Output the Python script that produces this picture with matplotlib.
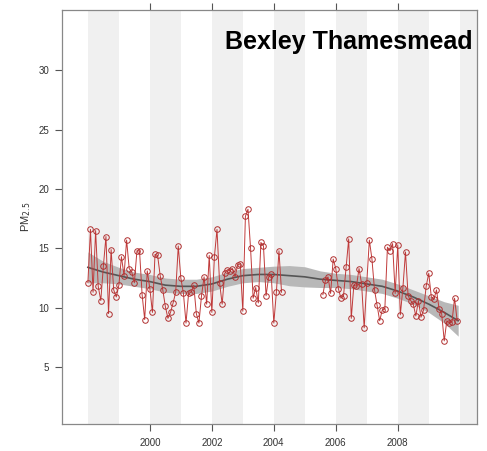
import numpy as np
import matplotlib.pyplot as plt

plt.rcParams['font.family'] = ['Liberation Sans', 'DejaVu Sans']

# monthly PM2.5, Jan 1998 - Apr 2004
seg1_start = 1998.0
seg1 = [12.1, 16.6, 11.3, 16.5, 11.8, 10.6, 13.5, 16.0, 9.5, 14.9, 11.5, 10.9,
        11.9, 14.3, 12.7, 15.7, 13.3, 13.0, 12.1, 14.8, 14.8, 11.1, 9.0, 13.1,
        11.6, 9.6, 14.5, 14.4, 12.7, 11.5, 10.1, 9.1, 9.6, 10.4, 11.3, 15.2,
        12.5, 11.2, 8.7, 11.2, 11.3, 11.9, 9.5, 8.7, 11.0, 12.6, 10.3, 14.4,
        9.6, 14.3, 16.6, 12.1, 10.3, 12.9, 13.2, 13.1, 13.3, 12.6, 13.6, 13.7,
        9.7, 17.7, 18.3, 15.0, 10.8, 11.7, 10.4, 15.5, 15.2, 11.0, 12.6, 12.8,
        8.7, 11.3, 14.8, 11.3]

# monthly PM2.5, Aug 2005 - Dec 2009
seg2_start = 2005 + 7 / 12
seg2 = [11.1, 12.3, 12.6, 11.2, 14.1, 13.3, 11.6, 10.8, 11.0, 13.4, 15.8, 9.1,
        11.9, 11.8, 13.3, 12.0, 8.3, 12.1, 15.7, 14.1, 11.5, 10.2, 8.9, 9.8,
        9.9, 15.1, 14.8, 15.4, 11.2, 15.3, 9.4, 11.7, 14.7, 11.0, 10.6, 10.3,
        9.3, 10.6, 9.2, 9.8, 11.8, 12.9, 10.9, 10.7, 11.5, 9.9, 9.5, 7.2,
        8.9, 8.7, 8.8, 10.8, 8.9]

# smooth trend with confidence interval
trend_x = [1998.0, 1998.5, 1999.0, 1999.5, 2000.0, 2000.5, 2001.0, 2001.5,
           2002.0, 2002.5, 2003.0, 2003.5, 2004.0, 2004.5, 2005.0, 2005.5,
           2006.0, 2006.5, 2007.0, 2007.5, 2008.0, 2008.5, 2009.0, 2009.5, 2009.95]
trend_y = [13.4, 13.0, 12.7, 12.4, 12.2, 11.9, 11.8, 11.8,
           12.0, 12.4, 12.7, 12.8, 12.8, 12.7, 12.6, 12.4,
           12.3, 12.2, 12.0, 11.8, 11.4, 10.9, 10.3, 9.6, 8.9]
trend_se = [1.3, 0.9, 0.7, 0.6, 0.6, 0.6, 0.6, 0.6,
            0.6, 0.6, 0.6, 0.6, 0.7, 0.85, 0.85, 0.7,
            0.6, 0.6, 0.6, 0.6, 0.6, 0.6, 0.7, 0.9, 1.3]

site = "Bexley Thamesmead"
year_ticks = [2000, 2002, 2004, 2006, 2008]

fig = plt.figure(figsize=(4.87, 4.51), dpi=100)
ax = fig.add_axes([0.127, 0.060, 0.852, 0.918])

# alternate shaded years
for yr in range(1998, 2012, 2):
    ax.axvspan(yr, yr + 1, color='#f0f0f0', lw=0, zorder=0)

lo = np.array(trend_y) - np.array(trend_se)
hi = np.array(trend_y) + np.array(trend_se)
ax.fill_between(trend_x, lo, hi, color='#b8b8b8', lw=0, zorder=1)
ax.plot(trend_x, trend_y, color='#555555', lw=1.2, zorder=2)

for start, vals in [(seg1_start, seg1), (seg2_start, seg2)]:
    x = start + np.arange(len(vals)) / 12
    ax.plot(x, vals, color='#c03a3a', lw=0.7, zorder=3)
    ax.plot(x, vals, ls='none', marker='o', ms=4, mfc='none',
            mec='#b03030', mew=0.7, zorder=4)

ax.set_xlim(1997.16, 2010.55)
ax.set_ylim(0.2, 35.1)
ax.set_yticks([5, 10, 15, 20, 25, 30])
ax.set_xticks(year_ticks)
ax.tick_params(axis='both', direction='out', length=5, width=0.8,
               color='#555555', labelsize=7, labelcolor='#333333')
ax.tick_params(axis='x', top=True, pad=5)
ax.tick_params(axis='y', pad=4)
for s in ax.spines.values():
    s.set_color('#888888')
    s.set_linewidth(0.9)

ax.set_ylabel('PM$_{2.5}$', fontsize=8, color='#333333', labelpad=4)
ax.text(0.990, 0.905, site, transform=ax.transAxes, ha='right', va='baseline',
        fontsize=18, fontweight='bold', zorder=5)

fig.savefig('out.png', dpi=100)
